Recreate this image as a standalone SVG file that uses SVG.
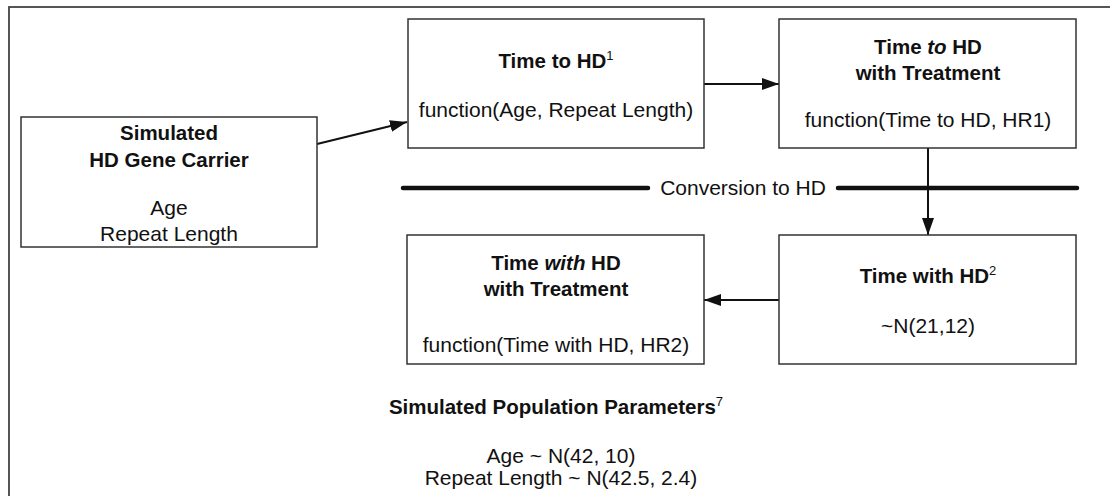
<svg xmlns="http://www.w3.org/2000/svg" width="1110" height="496" viewBox="0 0 1110 496">
<style>
text{font-family:"Liberation Sans",Arial,Helvetica,sans-serif;fill:#111;text-anchor:middle}
.t{font-size:20.5px;font-weight:bold}
.r{font-size:21px}
.s{font-size:13px;font-weight:normal}
.box{fill:#fff;stroke:#333;stroke-width:1.5}
.c{stroke:#111;stroke-width:2;fill:none}
</style>
<defs>
<marker id="ah" viewBox="0 0 17 12" refX="17" refY="6" markerWidth="17" markerHeight="12" markerUnits="userSpaceOnUse" orient="auto">
<path d="M0,0 L17,6 L0,12 Z" fill="#111"/>
</marker>
</defs>
<rect x="9" y="7" width="1120" height="510" fill="#fff" stroke="#444" stroke-width="1.8"/>
<g id="sep">
<line x1="403" y1="188" x2="648" y2="188" stroke="#111" stroke-width="4.5" stroke-linecap="round"/>
<line x1="838" y1="188" x2="1077" y2="188" stroke="#111" stroke-width="4.5" stroke-linecap="round"/>
<text class="r" x="743" y="195">Conversion to HD</text>
</g>
<g id="connectors">
<line class="c" x1="317" y1="144" x2="407" y2="122" marker-end="url(#ah)"/>
<line class="c" x1="704" y1="84" x2="779" y2="84" marker-end="url(#ah)"/>
<line class="c" x1="928" y1="148" x2="928" y2="235" marker-end="url(#ah)"/>
<line class="c" x1="779" y1="300" x2="704" y2="300" marker-end="url(#ah)"/>
</g>
<g id="carrier">
<rect class="box" x="21" y="117" width="296" height="130"/>
<text class="t" x="169" y="140">Simulated</text>
<text class="t" x="169" y="167">HD Gene Carrier</text>
<text class="r" x="169" y="215">Age</text>
<text class="r" x="169" y="241">Repeat Length</text>
</g>
<g id="timeto">
<rect class="box" x="408" y="19" width="296" height="129"/>
<text class="t" x="556" y="68">Time to HD<tspan class="s" dy="-8">1</tspan></text>
<text class="r" x="556" y="117">function(Age, Repeat Length)</text>
</g>
<g id="timetotreat">
<rect class="box" x="779" y="19" width="297" height="129"/>
<text class="t" x="928" y="54">Time <tspan font-style="italic">to</tspan> HD</text>
<text class="t" x="928" y="80">with Treatment</text>
<text class="r" x="928" y="127">function(Time to HD, HR1)</text>
</g>
<g id="timewith">
<rect class="box" x="779" y="235" width="297" height="129"/>
<text class="t" x="928" y="283">Time with HD<tspan class="s" dy="-8">2</tspan></text>
<text class="r" x="928" y="333">~N(21,12)</text>
</g>
<g id="timewithtreat">
<rect class="box" x="407" y="235" width="297" height="129"/>
<text class="t" x="556" y="270">Time <tspan font-style="italic">with</tspan> HD</text>
<text class="t" x="556" y="296">with Treatment</text>
<text class="r" x="556" y="352">function(Time with HD, HR2)</text>
</g>
<g id="params">
<text class="t" x="556" y="414">Simulated Population Parameters<tspan class="s" dy="-8">7</tspan></text>
<text class="r" x="561" y="463">Age ~ N(42, 10)</text>
<text class="r" x="561" y="485">Repeat Length ~ N(42.5, 2.4)</text>
</g>
</svg>
